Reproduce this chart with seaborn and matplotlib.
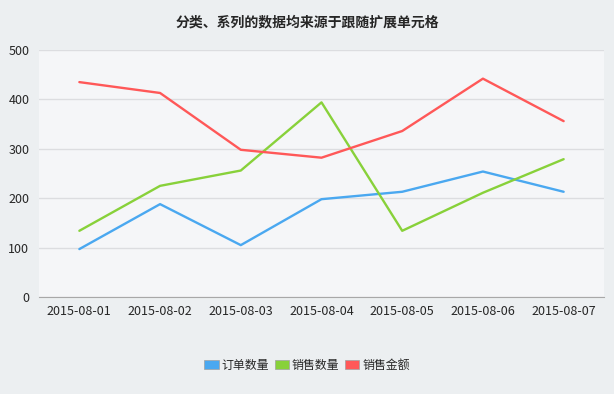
import pandas as pd
import matplotlib
matplotlib.use('Agg')
import matplotlib.pyplot as plt
import seaborn as sns

dates = ['2015-08-01', '2015-08-02', '2015-08-03', '2015-08-04',
         '2015-08-05', '2015-08-06', '2015-08-07']
orders = [97, 188, 105, 198, 213, 254, 213]
sales_qty = [134, 225, 256, 394, 134, 211, 279]
sales_amt = [435, 413, 298, 282, 336, 442, 356]
series = ['订单数量', '销售数量', '销售金额']
colors = ['#4AA8F0', '#88D13A', '#FF5858']

df = pd.DataFrame({'date': dates * 3,
                   'value': orders + sales_qty + sales_amt,
                   'series': [s for s in series for _ in dates]})

sns.set_style('white')
plt.rcParams['font.family'] = ['Noto Sans CJK SC', 'DejaVu Sans']

fig = plt.figure(figsize=(6.14, 3.94), dpi=100, facecolor='#ECEFF1')
ax = fig.add_axes([39 / 614, 1 - 297 / 394, 565 / 614, 247 / 394])
ax.set_facecolor('#F5F6F8')

sns.lineplot(data=df, x='date', y='value', hue='series', palette=colors,
             linewidth=1.7, ax=ax, legend=False, sort=False)

ax.set_xlim(-0.5, 6.5)
ax.set_ylim(0, 500)
ax.set_yticks([0, 100, 200, 300, 400, 500])
ax.yaxis.grid(True, color='#DCDDE0', linewidth=1)
ax.set_axisbelow(True)
for s in ['top', 'right', 'left']:
    ax.spines[s].set_visible(False)
ax.spines['bottom'].set_color('#A8A8A8')
ax.tick_params(axis='y', length=5, color='#A8A8A8', labelsize=9, pad=2)
ax.tick_params(axis='x', length=3, color='#C8C8C8', labelsize=9, pad=3)
ax.set_xlabel('')
ax.set_ylabel('')

fig.text(0.5, 1 - 22 / 394, '分类、系列的数据均来源于跟随扩展单元格',
         ha='center', va='center', fontsize=10, fontweight='bold')

handles = [plt.Rectangle((0, 0), 1, 1, facecolor=c, edgecolor='#A0A0A0', linewidth=0.5)
           for c in colors]
fig.legend(handles, series, loc='center', bbox_to_anchor=(0.5, 1 - 365 / 394),
           ncol=3, frameon=False, fontsize=8.6, handlelength=1.2, handleheight=0.75,
           handletextpad=0.25, columnspacing=0.45)

fig.savefig('out.png', dpi=100, facecolor=fig.get_facecolor())
